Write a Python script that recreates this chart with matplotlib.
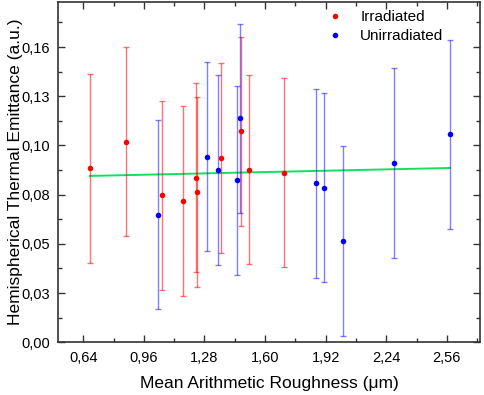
import numpy as np
import matplotlib
matplotlib.use("Agg")
import matplotlib.pyplot as plt
from matplotlib.ticker import FixedLocator, MultipleLocator

plt.rcParams['font.family'] = ['Liberation Sans', 'DejaVu Sans']

# Irradiated samples
irr_x = [0.677, 0.866, 1.055, 1.164, 1.234, 1.243, 1.365, 1.472, 1.513, 1.702]
irr_y = [0.0920, 0.1060, 0.0777, 0.0747, 0.0870, 0.0794, 0.0974, 0.1115, 0.0912, 0.0896]
irr_err = [0.050, 0.050, 0.050, 0.050, 0.050, 0.050, 0.050, 0.050, 0.050, 0.050]

# Unirradiated samples
unirr_x = [1.033, 1.293, 1.352, 1.453, 1.470, 1.871, 1.909, 2.010, 2.280, 2.576]
unirr_y = [0.0674, 0.0981, 0.0911, 0.0856, 0.1184, 0.0840, 0.0817, 0.0535, 0.0948, 0.1099]
unirr_err = [0.050, 0.050, 0.050, 0.050, 0.050, 0.050, 0.050, 0.050, 0.050, 0.050]

# linear fit line end points
fit_x = [0.675, 2.576]
fit_y = [0.0879, 0.0921]

xticks = [0.64, 0.96, 1.28, 1.60, 1.92, 2.24, 2.56]
yticks = [0.0, 0.026, 0.052, 0.078, 0.104, 0.130, 0.156]

fig = plt.figure(figsize=(4.84, 3.95), dpi=100)
ax = fig.add_axes([0.1205, 0.1334, 0.8715, 0.8616])

ax.plot(fit_x, fit_y, color='#14e060', lw=1.4, zorder=1)

ax.errorbar(irr_x, irr_y, yerr=irr_err, fmt='none', ecolor='red', alpha=0.55,
            elinewidth=1.0, capsize=2.5, capthick=1.0, zorder=2)
ax.errorbar(unirr_x, unirr_y, yerr=unirr_err, fmt='none', ecolor='blue', alpha=0.5,
            elinewidth=1.0, capsize=2.5, capthick=1.0, zorder=2)
ax.plot(irr_x, irr_y, 'o', color='red', ms=4, mec='none', label='Irradiated', zorder=3)
ax.plot(unirr_x, unirr_y, 'o', color='blue', ms=4, mec='none', label='Unirradiated', zorder=3)

ax.set_xlim(0.508, 2.736)
ax.set_ylim(0, 0.1798)

ax.xaxis.set_major_locator(FixedLocator(xticks))
ax.xaxis.set_minor_locator(MultipleLocator(0.16))
ax.set_xticklabels([('%.2f' % v).replace('.', ',') for v in xticks])
ax.yaxis.set_major_locator(FixedLocator(yticks))
ax.yaxis.set_minor_locator(MultipleLocator(0.013))
ax.set_yticklabels([('%.2f' % v).replace('.', ',') for v in yticks])

ax.tick_params(which='both', direction='in', top=True, right=True,
               colors='#333333', labelcolor='black', labelsize=10.5)
ax.tick_params(which='major', length=5, width=1.0, pad=6)
ax.tick_params(which='minor', length=3, width=1.0)
for s in ax.spines.values():
    s.set_color('#333333')
    s.set_linewidth(1.2)

ax.set_xlabel('Mean Arithmetic Roughness (\u03bcm)', fontsize=12.5, labelpad=8)
ax.set_ylabel('Hemispherical Thermal Emittance (a.u.)', fontsize=12.5)
ax.yaxis.set_label_coords(-0.084, 0.5)

ax.legend(loc='upper right', bbox_to_anchor=(0.946, 1.016), frameon=False,
          fontsize=11, handletextpad=1.05, handlelength=1.2, labelspacing=0.3)

fig.savefig('out.png', dpi=100)
